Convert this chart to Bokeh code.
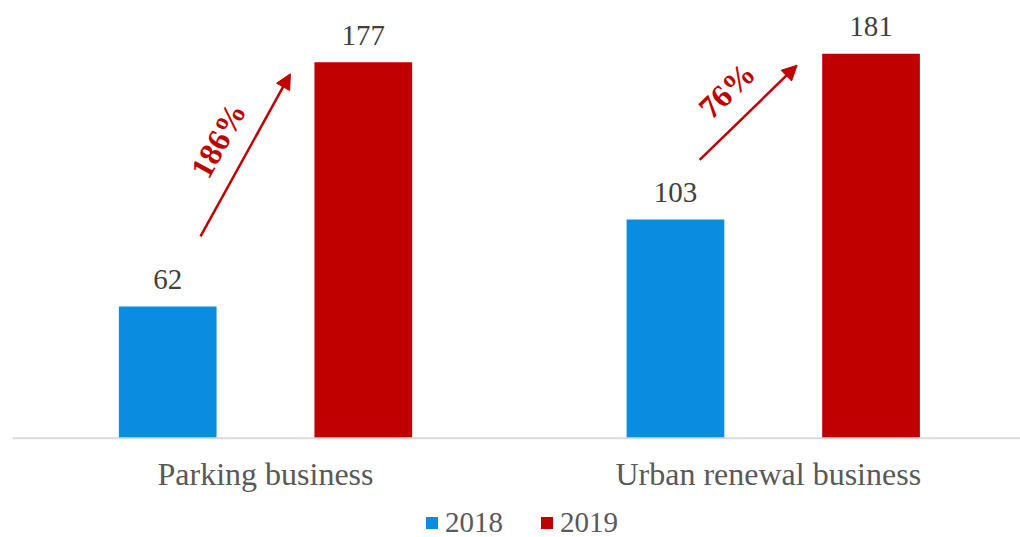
import numpy as np
from bokeh.plotting import figure
from bokeh.models import (ColumnDataSource, Range1d, Arrow, NormalHead, Span,
                          Legend, LegendItem)
from bokeh.core.properties import value
from bokeh.embed import file_html
from bokeh.resources import INLINE

# ---- data ----
categories = ["Parking business", "Urban renewal business"]
series_names = ["2018", "2019"]
values_2018 = [62, 103]
values_2019 = [177, 181]
growth_labels = ["186%", "76%"]

# ---- style / layout ----
BLUE = "#0A8DE0"
RED = "#C00000"
FONT = value("Liberation Serif")

W, H = 1020, 537
FL = 12
zero_px = 437.7          # screen y of the baseline
px_per_unit = 2.124      # screen px per value unit
cat_px = [265.0, 772.75] # screen x of category centres

x_scale = cat_px[1] - cat_px[0]
x_start = (FL - cat_px[0]) / x_scale
x_end = (W - cat_px[0]) / x_scale
y_end = zero_px / px_per_unit
y_start = -(H - zero_px) / px_per_unit

p = figure(width=W, height=H, x_range=Range1d(x_start, x_end), y_range=Range1d(y_start, y_end),
           output_backend="svg", toolbar_location=None,
           min_border_left=FL, min_border_right=0, min_border_top=0, min_border_bottom=0)
p.outline_line_color = None
p.grid.visible = False
p.xaxis.visible = False
p.yaxis.visible = False
p.background_fill_color = "white"
p.border_fill_color = "white"

xs = np.arange(len(categories))
off = 0.1926
bw = 0.1924

src18 = ColumnDataSource(dict(x=xs - off, top=values_2018, label=[str(v) for v in values_2018]))
src19 = ColumnDataSource(dict(x=xs + off, top=values_2019, label=[str(v) for v in values_2019]))

r18 = p.vbar(x="x", top="top", bottom=0, width=bw, source=src18, fill_color=BLUE, line_color=None)
r19 = p.vbar(x="x", top="top", bottom=0, width=bw, source=src19, fill_color=RED, line_color=None)

# baseline (category axis line)
p.add_layout(Span(location=0, dimension="width", line_color="#D9D9D9", line_width=2))

# value labels
for s in (src18, src19):
    p.text(x="x", y="top", text="label", source=s, text_font=FONT, text_font_size="29px",
           text_color="#404040", text_align="center", text_baseline="middle", y_offset=-27)

# category labels
cat_src = ColumnDataSource(dict(x=xs, y=np.zeros(len(xs)), text=categories,
                                xo=[0, -5]))
p.text(x="x", y="y", text="text", x_offset="xo", source=cat_src, text_font=FONT,
       text_font_size="32px", text_color="#595959", text_align="center",
       text_baseline="middle", y_offset=36)

# ---- growth arrows ----
v18 = np.array(values_2018, dtype=float)
v19 = np.array(values_2019, dtype=float)
tail_dx = np.array([-0.128, -0.145])
head_dx = np.array([0.049, 0.047])
tail_dy = np.array([33.0, 28.0])
head_dy = -5.4
x0 = xs + tail_dx
x1 = xs + head_dx
y0 = v18 + tail_dy
y1 = v19 + head_dy
arrow_src = ColumnDataSource(dict(x0=x0, y0=y0, x1=x1, y1=y1))
p.add_layout(Arrow(end=NormalHead(size=15, fill_color=RED, line_color=RED, line_width=1),
                   x_start="x0", y_start="y0", x_end="x1", y_end="y1", source=arrow_src,
                   line_color=RED, line_width=2.5))

theta = np.arctan2((y1 - y0) * px_per_unit, (x1 - x0) * x_scale)
d = 31
lab_src = ColumnDataSource(dict(x=(x0 + x1) / 2, y=(y0 + y1) / 2, text=growth_labels, angle=theta,
                                xo=-d * np.sin(theta), yo=-d * np.cos(theta)))
p.text(x="x", y="y", text="text", angle="angle", x_offset="xo", y_offset="yo", source=lab_src,
       text_font=FONT, text_font_size="32px", text_font_style="bold", text_color=RED,
       text_align="center", text_baseline="middle")

# ---- legend ----
legend = Legend(items=[LegendItem(label=series_names[0], renderers=[r18]),
                       LegendItem(label=series_names[1], renderers=[r19])],
                orientation="horizontal", location=(412, -2),
                padding=0, margin=0, spacing=36, label_standoff=6,
                glyph_width=15, glyph_height=15,
                label_text_font="Liberation Serif", label_text_font_size="29px",
                label_text_line_height=1.0,
                label_text_color="#595959",
                border_line_color=None, background_fill_alpha=0)
p.add_layout(legend, "center")

open("out.html", "w").write(file_html(p, INLINE))
